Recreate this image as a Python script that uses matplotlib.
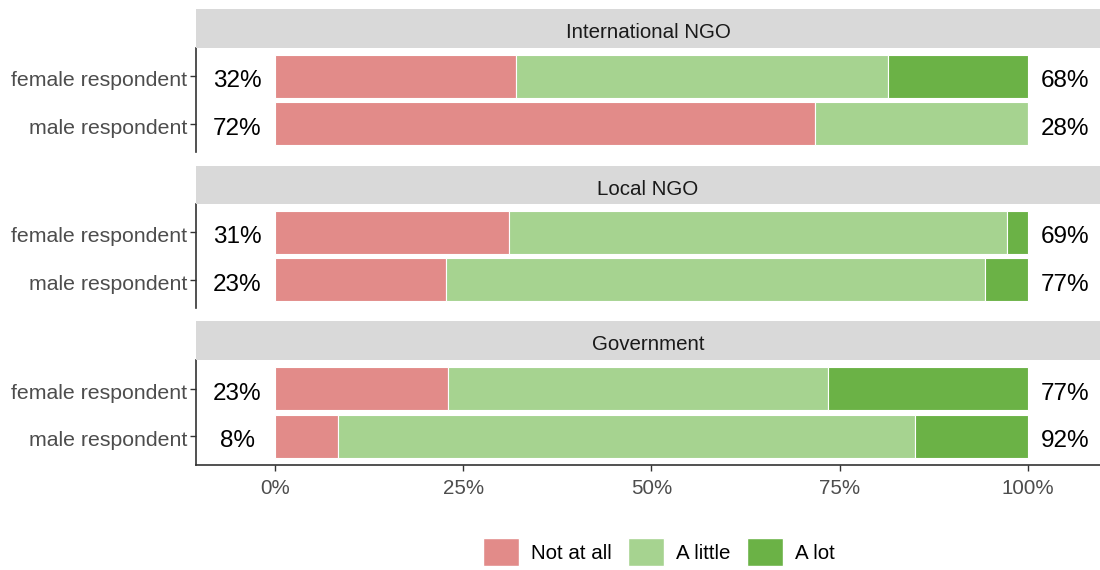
import numpy as np
import matplotlib
matplotlib.use('Agg')
import matplotlib.pyplot as plt
from matplotlib.patches import Patch
from matplotlib.transforms import ScaledTranslation

plt.rcParams['font.family'] = ['Liberation Sans', 'DejaVu Sans']

# data (percent of respondents)
facets = ['International NGO', 'Local NGO', 'Government']
respondents = ['female respondent', 'male respondent']
levels = ['Not at all', 'A little', 'A lot']
colors = ['#E28B89', '#A6D390', '#6BB246']

not_at_all = [[32.0, 71.7], [31.1, 22.7], [23.0, 8.4]]
a_little = [[49.5, 28.3], [66.2, 71.6], [50.4, 76.6]]
a_lot = [[18.5, 0.0], [2.7, 5.7], [26.6, 15.0]]

W, H = 1100, 570
fig = plt.figure(figsize=(11, 5.7), dpi=100)

# panel and strip positions in pixels (top, bottom)
panels_px = [(48, 152), (204, 308), (360, 465)]
strips_px = [(9, 48), (166, 204), (321, 360)]
left_px = 196

tick_color = '#4D4D4D'
axis_color = '#333333'
# nudge text down a couple of pixels
down = ScaledTranslation(0, -2.5 / 100, fig.dpi_scale_trans)
ylab_shift = ScaledTranslation(-9 / 100, -2.5 / 100, fig.dpi_scale_trans)

for i, facet in enumerate(facets):
    top, bot = panels_px[i]
    ax = fig.add_axes([left_px / W, 1 - bot / H, 1 - left_px / W, (bot - top) / H])
    ypos = np.array([2, 1])  # female on top
    series = [not_at_all[i], a_little[i], a_lot[i]]
    left = np.zeros(2)
    for vals, c in zip(series, colors):
        vals = np.array(vals)
        ax.barh(ypos, vals, left=left, height=0.9, color=c,
                edgecolor='white', linewidth=0.8)
        left += vals
    for y, n, l, h in zip(ypos, not_at_all[i], a_little[i], a_lot[i]):
        ax.text(-5, y, f'{round(n)}%', ha='center', va='center_baseline',
                fontsize=17.5, color='black', transform=ax.transData + down)
        ax.text(105, y, f'{round(l + h)}%', ha='center', va='center_baseline',
                fontsize=17.5, color='black', transform=ax.transData + down)

    ax.set_xlim(-10.5, 109.6)
    ax.set_ylim(0.4, 2.6)
    ax.set_yticks(ypos)
    ax.set_yticklabels([])
    for y, lab in zip(ypos, respondents):
        ax.text(0, y, lab, ha='right', va='center_baseline', fontsize=15.3,
                color=tick_color, transform=ax.get_yaxis_transform() + ylab_shift)
    ax.tick_params(axis='y', colors=axis_color, length=4, width=1)
    for s in ['top', 'right']:
        ax.spines[s].set_visible(False)
    ax.spines['left'].set_color(axis_color)
    ax.spines['left'].set_linewidth(1.2)
    if i == len(facets) - 1:
        ax.set_xticks([0, 25, 50, 75, 100])
        ax.set_xticklabels(['0%', '25%', '50%', '75%', '100%'])
        ax.tick_params(axis='x', colors=axis_color, labelcolor=tick_color,
                       labelsize=14.8, length=4, width=1, pad=6)
        ax.spines['bottom'].set_color(axis_color)
        ax.spines['bottom'].set_linewidth(1.2)
    else:
        ax.set_xticks([])
        ax.spines['bottom'].set_visible(False)

    # facet strip
    st, sb = strips_px[i]
    sax = fig.add_axes([left_px / W, 1 - sb / H, 1 - left_px / W, (sb - st) / H])
    sax.set_facecolor('#D9D9D9')
    sax.set_xticks([])
    sax.set_yticks([])
    for s in sax.spines.values():
        s.set_visible(False)
    sax.text(0.5, 0.5, facet, ha='center', va='center_baseline', fontsize=14.8,
             color='#1A1A1A', transform=sax.transAxes + down)

handles = [Patch(facecolor=c, edgecolor='white', label=l) for c, l in zip(colors, levels)]
fig.legend(handles=handles, loc='center', bbox_to_anchor=(0.599, 1 - 552 / H),
           ncol=3, frameon=False, fontsize=14.8, handlelength=1.75, handleheight=1.75,
           handletextpad=0.6, columnspacing=0.8, borderaxespad=0)

fig.savefig('out.png', dpi=100)
